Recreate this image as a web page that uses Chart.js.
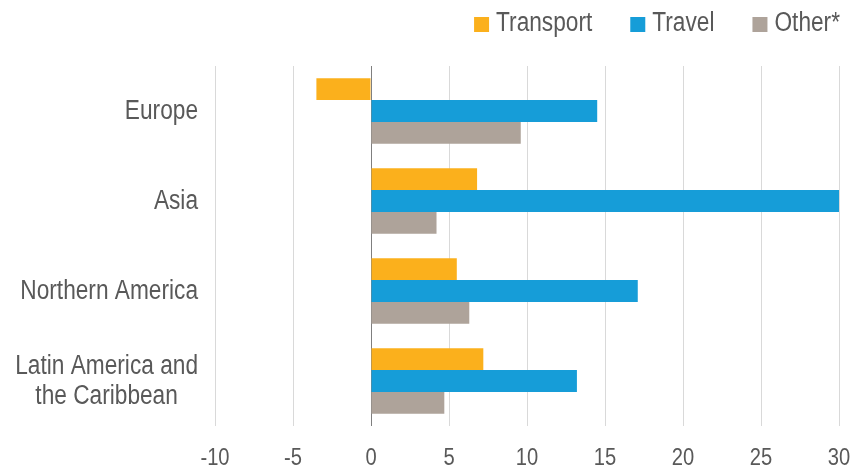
<!DOCTYPE html>
<html>
<head>
<meta charset="utf-8">
<script src="https://cdn.jsdelivr.net/npm/chart.js@4"></script>
<style>
    body { margin: 0; background: #fff; }
</style>
</head>
<body>
<canvas id="chart" width="852" height="469"></canvas>
<script>
const regions = ['Europe', 'Asia', 'Northern America', ['Latin America and', 'the Caribbean']];
const seriesNames = ['Transport', 'Travel', 'Other*'];
const transport = [-3.5, 6.8, 5.5, 7.2];
const travel = [14.5, 30.1, 17.1, 13.2];
const other = [9.6, 4.2, 6.3, 4.7];
const xTicks = [-10, -5, 0, 5, 10, 15, 20, 25, 30];

const colors = ['#FBB01C', '#169DD8', '#AEA39A'];
const textColor = '#595959';
const fontFamily = '"Liberation Sans Narrow", "Liberation Sans", Arial, sans-serif';
const squeeze = 0.84; // no condensed face installed, so narrow the text by hand

// draw text squeezed horizontally, anchored at x
function narrowText(ctx, text, x, y, align, size) {
    ctx.save();
    ctx.font = size + 'px ' + fontFamily;
    ctx.textAlign = align;
    ctx.textBaseline = 'middle';
    ctx.translate(x, y);
    ctx.scale(squeeze, 1);
    ctx.fillText(text, 0, 0);
    ctx.restore();
}

function narrowWidth(ctx, text, size) {
    ctx.save();
    ctx.font = size + 'px ' + fontFamily;
    const w = ctx.measureText(text).width * squeeze;
    ctx.restore();
    return w;
}

const textPlugin = {
    id: 'textPlugin',
    afterDraw(chart) {
        const ctx = chart.ctx;
        const xScale = chart.scales.x;
        const yScale = chart.scales.y;
        ctx.save();
        ctx.fillStyle = textColor;

        // category labels, each line centered on the widest one
        const labelRight = 198;
        regions.forEach((label, i) => {
            const lines = Array.isArray(label) ? label : [label];
            const center = yScale.getPixelForValue(i);
            const widest = Math.max(...lines.map(l => narrowWidth(ctx, l, 27)));
            lines.forEach((line, j) => {
                const y = center + (j - (lines.length - 1) / 2) * 30 + 1;
                narrowText(ctx, line, labelRight - widest / 2, y, 'center', 27);
            });
        });

        // x tick labels
        xTicks.forEach(v => {
            narrowText(ctx, String(v), xScale.getPixelForValue(v), 458, 'center', 24);
        });

        // legend, laid out from the right edge
        let x = 840;
        const legendY = 24;
        for (let i = seriesNames.length - 1; i >= 0; i--) {
            const w = narrowWidth(ctx, seriesNames[i], 27);
            narrowText(ctx, seriesNames[i], x - w, legendY, 'left', 27);
            x -= w + 7;
            ctx.fillStyle = colors[i];
            ctx.fillRect(x - 15, legendY - 7, 15, 15);
            ctx.fillStyle = textColor;
            x -= 15 + 38;
        }
        ctx.restore();
    }
};

new Chart(document.getElementById('chart'), {
    type: 'bar',
    data: {
        labels: regions.map((r, i) => i),
        datasets: [
            { label: seriesNames[0], data: transport, backgroundColor: colors[0] },
            { label: seriesNames[1], data: travel, backgroundColor: colors[1] },
            { label: seriesNames[2], data: other, backgroundColor: colors[2] }
        ]
    },
    options: {
        indexAxis: 'y',
        responsive: false,
        animation: false,
        datasets: {
            bar: { barPercentage: 1, categoryPercentage: 0.73 }
        },
        layout: { padding: { top: 66, right: 13, bottom: 43, left: 0 } },
        plugins: {
            legend: { display: false },
            tooltip: { enabled: false }
        },
        scales: {
            x: {
                min: -10,
                max: 30,
                afterBuildTicks: scale => { scale.ticks = xTicks.map(v => ({ value: v })); },
                grid: {
                    color: c => (c.tick && c.tick.value === 0) ? '#7f7f7f' : '#d9d9d9',
                    lineWidth: 1,
                    drawTicks: false
                },
                border: { display: false },
                ticks: { display: false }
            },
            y: {
                grid: { display: false },
                border: { display: false },
                ticks: { display: false },
                afterFit: scale => { scale.width = 215; }
            }
        }
    },
    plugins: [textPlugin]
});
</script>
</body>
</html>
